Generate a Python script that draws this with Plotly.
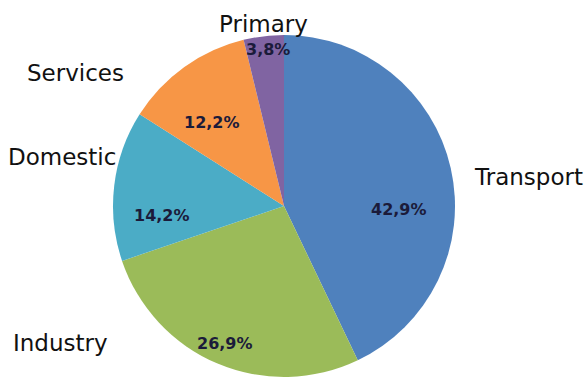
import plotly.graph_objects as go

categories = ["Transport", "Industry", "Domestic", "Services", "Primary"]
values = [42.9, 26.9, 14.2, 12.2, 3.8]
colors = ["#4F81BD", "#9BBB59", "#4BACC6", "#F79646", "#8064A2"]

W, H = 587, 379
cx, cy, r = 284, 206, 171

fig = go.Figure(go.Pie(
    labels=categories,
    values=values,
    sort=False,
    direction="clockwise",
    rotation=0,
    marker=dict(colors=colors, line=dict(width=0)),
    textinfo="none",
    domain=dict(x=[(cx - r) / W, (cx + r) / W], y=[(H - cy - r) / H, (H - cy + r) / H]),
    showlegend=False,
    hoverinfo="label+percent",
))

# label placement (layout only)
label_pos = {
    "Transport": (528, 177),
    "Industry": (60, 343),
    "Domestic": (62, 157),
    "Services": (75, 73),
    "Primary": (263, 24),
}
pct_pos = {
    "Transport": (399, 209),
    "Industry": (225, 343),
    "Domestic": (162, 215),
    "Services": (212, 122),
    "Primary": (268, 50),
}
total = sum(values)
for name, v in zip(categories, values):
    x, y = label_pos[name]
    fig.add_annotation(x=x / W, y=1 - y / H, xref="paper", yref="paper",
                       text=name, showarrow=False, xanchor="center", yanchor="middle",
                       font=dict(family="DejaVu Sans", size=23, color="#111111"))
    px, py = pct_pos[name]
    pct = f"{100 * v / total:.1f}%".replace(".", ",")
    fig.add_annotation(x=px / W, y=1 - py / H, xref="paper", yref="paper",
                       text=f"<b>{pct}</b>", showarrow=False, xanchor="center", yanchor="middle",
                       font=dict(family="DejaVu Sans", size=16, color="#1b1b3a"))

fig.update_layout(
    width=W, height=H,
    margin=dict(l=0, r=0, t=0, b=0),
    paper_bgcolor="white",
    plot_bgcolor="white",
)

fig.write_html("out.html")
